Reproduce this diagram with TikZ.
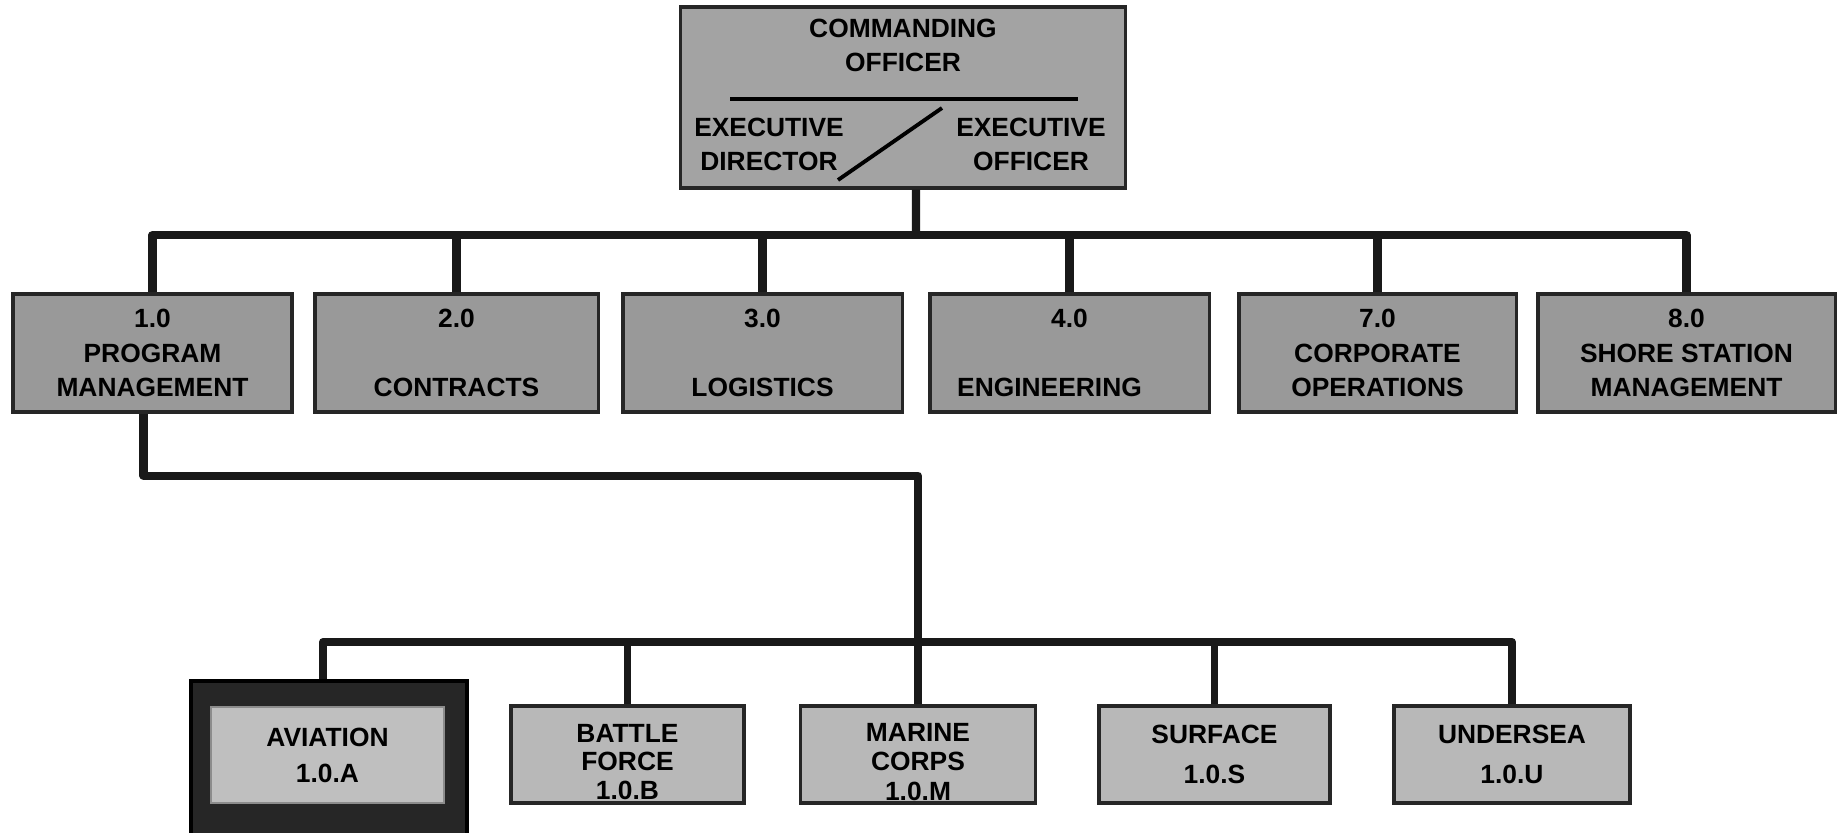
\documentclass[tikz,border=0pt]{standalone}
\usepackage{fontspec}
\setmainfont{Liberation Sans}
\begin{document}
\begin{tikzpicture}[x=0.01cm, y=-0.01cm]
        \tikzstyle{every node} = [font=\fontsize{7.5}{9.7}\selectfont\bfseries, align=center, inner sep=0pt]
        \tikzstyle{unit} = [rectangle, draw=black!85, line width=0.9pt, fill=black!40, minimum height=1.18cm]
        \tikzstyle{branch} = [rectangle, draw=black!85, line width=0.9pt, fill=black!28, minimum height=0.97cm]
        \tikzstyle{link} = [line width=2.3pt, black!90, line join=round]
        \useasboundingbox (0,0) rectangle (1841,833);
        \node[unit, fill=black!36, minimum width=4.44cm, minimum height=1.81cm](Commanding) at (903,97.5) {};
        \node(Commanding text) at (903,45) {COMMANDING\\OFFICER};
        \node(Director) at (769,144) {EXECUTIVE\\DIRECTOR};
        \node(Executive) at (1031,144) {EXECUTIVE\\OFFICER};
        \draw[line width=1.1pt] (730,99) -- (1078,99);
        \draw[line width=1.1pt] (838,180) -- (942,108);
        \node[unit, minimum width=2.79cm](Program) at (152.5,353) {1.0\\PROGRAM\\MANAGEMENT};
        \node[unit, minimum width=2.83cm](Contracts) at (456.5,353) {2.0\\\strut\\CONTRACTS};
        \node[unit, minimum width=2.79cm](Logistics) at (762.5,353) {3.0\\\strut\\LOGISTICS};
        \node[unit, minimum width=2.79cm](Engineering) at (1069.5,353) {4.0\\\strut\\ENGINEERING\kern0.4cm\mbox{}};
        \node[unit, minimum width=2.77cm](Corporate) at (1377.5,353) {7.0\\CORPORATE\\OPERATIONS};
        \node[unit, minimum width=2.97cm](Shore) at (1686.5,353) {8.0\\SHORE STATION\\MANAGEMENT};
        \node[rectangle, draw=black, line width=0.9pt, fill=black!85, minimum width=2.76cm, minimum height=1.54cm](Aviation frame) at (329,758) {};
        \node[branch, draw=black!45, line width=0.6pt, fill=black!25, minimum width=2.33cm, minimum height=0.96cm](Aviation) at (327.5,755) {AVIATION\\[0.5pt]1.0.A};
        \node[branch, minimum width=2.33cm](Battle) at (627.5,754.5) {\rule{0pt}{9.4pt}BATTLE\\[-1.7pt]FORCE\\[-1.7pt]1.0.B};
        \node[branch, minimum width=2.35cm](Marine) at (918,754.5) {\rule{0pt}{9.4pt}MARINE\\[-1.2pt]CORPS\\[-1.2pt]1.0.M};
        \node[branch, minimum width=2.31cm](Surface) at (1214.5,754.5) {SURFACE\\[1.7pt]1.0.S};
        \node[branch, minimum width=2.36cm](Undersea) at (1512,754.5) {UNDERSEA\\[1.7pt]1.0.U};
        \coordinate(Top bar) at (916,235);
        \coordinate(Sub bar) at (916,642);
        \draw[link] ([xshift=0.13cm]Commanding.south) -- (Top bar);
        \draw[link] (Program.north) -- (Program.north |- Top bar) -- (Shore.north |- Top bar) -- (Shore.north);
        \draw[link] (Contracts.north) -- (Contracts.north |- Top bar);
        \draw[link] (Logistics.north) -- (Logistics.north |- Top bar);
        \draw[link] (Engineering.north) -- (Engineering.north |- Top bar);
        \draw[link] (Corporate.north) -- (Corporate.north |- Top bar);
        \draw[link] ([xshift=-0.09cm]Program.south) -- ++(0,62) -| (Marine.north);
        \draw[link] ([xshift=-0.06cm]Aviation frame.north) -- ([xshift=-0.06cm]Aviation frame.north |- Sub bar) -- (Undersea.north |- Sub bar) -- (Undersea.north);
        \draw[link, line width=1.8pt] (Battle.north) -- (Battle.north |- Sub bar);
        \draw[link, line width=1.8pt] (Surface.north) -- (Surface.north |- Sub bar);

    \end{tikzpicture}
\end{document}
